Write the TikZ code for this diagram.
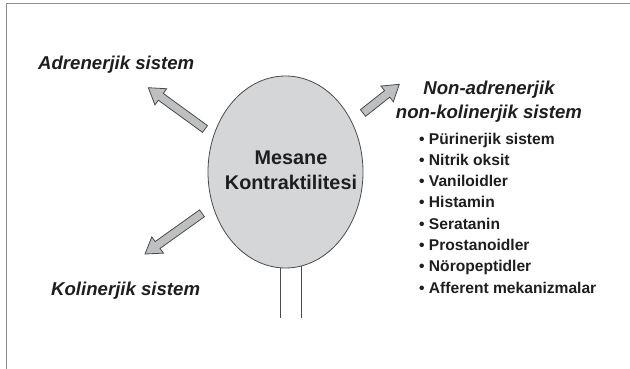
\documentclass[tikz,border=0pt]{standalone}
\usepackage{fontspec}
\setmainfont{Liberation Sans}
\usetikzlibrary{shapes.geometric,calc}
\definecolor{frameline}{HTML}{8C8C8C}
\definecolor{bladderfill}{HTML}{D5D6D8}
\definecolor{arrowfill}{HTML}{BEBFC1}
\definecolor{edgecol}{HTML}{4A4A4A}
\definecolor{txt}{HTML}{1E1E1E}
\tikzset{
  frame/.style={draw=frameline, line width=1.5pt},
  bladder/.style={ellipse, draw=edgecol, line width=0.8pt, fill=bladderfill,
    minimum width=155pt, minimum height=192pt, inner sep=0pt},
  stem/.style={draw=edgecol, line width=1pt},
  blockarrow/.style={draw=edgecol, line width=0.8pt, fill=arrowfill, line join=miter},
  head/.style={text=txt, inner sep=0pt, anchor=base west,
    font=\bfseries\itshape\fontsize{18.6}{22}\selectfont},
  headc/.style={head, anchor=base},
  item/.style={text=txt, inner sep=0pt, anchor=base west,
    font=\bfseries\fontsize{15.6}{18}\selectfont},
  title/.style={text=txt, inner sep=0pt, align=center,
    font=\bfseries\fontsize{19.8}{25}\selectfont},
}
\newcommand\blockarr[2]{%
  \coordinate (#1h) at ($(#2)!15.5pt!(#1)$);
  \draw[blockarrow] ($(#1)!4.2pt!90:(#2)$) -- ($(#1h)!4.2pt!90:(#2)$)
    -- ($(#1h)!10pt!90:(#2)$) -- (#2) -- ($(#1h)!10pt!-90:(#2)$)
    -- ($(#1h)!4.2pt!-90:(#2)$) -- ($(#1)!4.2pt!-90:(#2)$) -- cycle;}
\begin{document}
\begin{tikzpicture}[x=1pt,y=-1pt]
\useasboundingbox (0,0) rectangle (630,369);
\draw[frame] (6.7,369) -- (6.7,3.7) -- (630,3.7);

% stems (drawn under the bladder)
\coordinate (sl) at (280.5,266);
\coordinate (sr) at (301.5,266);
\coordinate (sle) at (280.5,318);
\coordinate (sre) at (301.5,318);
\draw[stem] (sl) -- (sle);
\draw[stem] (sr) -- (sre);

\node[bladder] (bl) at (285.5,172) {};
\node[title] (ttl) at (291,170.4) {Mesane\\Kontraktilitesi};

% arrows
\coordinate (at) at (205,129);   \coordinate (ap) at (148.3,87.7);
\coordinate (kt) at (202,213.3); \coordinate (kp) at (145,254);
\coordinate (nt) at (363,113);   \coordinate (np) at (399.3,84.3);
\blockarr{at}{ap}
\blockarr{kt}{kp}
\blockarr{nt}{np}

% labels
\node[head] (adr) at (38,70) {Adrenerjik sistem};
\node[head] (kol) at (51,295) {Kolinerjik sistem};
\node[headc] (nanc1) at (489,95) {Non-adrenerjik};
\node[headc] (nanc2) at (489,118) {non-kolinerjik sistem};

\node[item] (i1) at (419,144.0) {• Pürinerjik sistem};
\node[item] (i2) at (419,165.3) {• Nitrik oksit};
\node[item] (i3) at (419,186.6) {• Vaniloidler};
\node[item] (i4) at (419,207.9) {• Histamin};
\node[item] (i5) at (419,229.2) {• Seratanin};
\node[item] (i6) at (419,250.5) {• Prostanoidler};
\node[item] (i7) at (419,271.8) {• Nöropeptidler};
\node[item] (i8) at (419,293.1) {• Afferent mekanizmalar};
\end{tikzpicture}
\end{document}
